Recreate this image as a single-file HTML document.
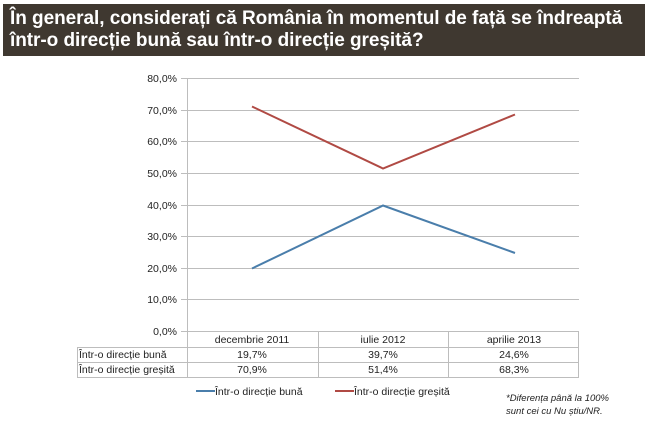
<!DOCTYPE html>
<html><head><meta charset="utf-8"><style>
body{margin:0;width:650px;height:423px;background:#fff;overflow:hidden;font-family:"Liberation Sans",sans-serif}
.hd{position:absolute;left:3px;top:4px;width:642px;height:52px;background:#3f3830;color:#fff;font-weight:bold;font-size:19px;line-height:22px;padding:4px 0 0 7px;box-sizing:border-box;letter-spacing:-0.05px}
</style></head><body>
<div class="hd">În general, considerați că România în momentul de față se îndreaptă<br>într-o direcție bună sau într-o direcție greșită?</div>
<svg width="650" height="423" style="position:absolute;left:0;top:0" font-family="Liberation Sans, sans-serif" font-size="10.5" fill="#222">
<g stroke="#bdbdbd" stroke-width="1">
<line x1="181" y1="78.5" x2="579" y2="78.5"/><line x1="181" y1="110.5" x2="579" y2="110.5"/>
<line x1="181" y1="141.5" x2="579" y2="141.5"/><line x1="181" y1="173.5" x2="579" y2="173.5"/>
<line x1="181" y1="205.5" x2="579" y2="205.5"/><line x1="181" y1="236.5" x2="579" y2="236.5"/>
<line x1="181" y1="268.5" x2="579" y2="268.5"/><line x1="181" y1="299.5" x2="579" y2="299.5"/>
<line x1="181" y1="331.5" x2="579" y2="331.5"/>
<line x1="187.5" y1="78" x2="187.5" y2="378"/>
<line x1="318.5" y1="331" x2="318.5" y2="378"/><line x1="448.5" y1="331" x2="448.5" y2="378"/>
<line x1="578.5" y1="331" x2="578.5" y2="378"/>
<line x1="77" y1="347.5" x2="579" y2="347.5"/><line x1="77" y1="362.5" x2="579" y2="362.5"/>
<line x1="77" y1="377.5" x2="579" y2="377.5"/><line x1="77.5" y1="347" x2="77.5" y2="378"/>
</g>
<g text-anchor="end">
<text x="177" y="82">80,0%</text><text x="177" y="114">70,0%</text><text x="177" y="145">60,0%</text>
<text x="177" y="177">50,0%</text><text x="177" y="209">40,0%</text><text x="177" y="240">30,0%</text>
<text x="177" y="272">20,0%</text><text x="177" y="303">10,0%</text><text x="177" y="335">0,0%</text>
</g>
<polyline points="252,268.5 383,205.5 515,253" fill="none" stroke="#4a7eab" stroke-width="2"/>
<polyline points="252,106.5 383,168.5 515,114.5" fill="none" stroke="#b04a44" stroke-width="2"/>
<g text-anchor="middle">
<text x="252" y="343">decembrie 2011</text><text x="383" y="343">iulie 2012</text><text x="514" y="343">aprilie 2013</text>
<text x="252" y="358">19,7%</text><text x="383" y="358">39,7%</text><text x="514" y="358">24,6%</text>
<text x="252" y="373">70,9%</text><text x="383" y="373">51,4%</text><text x="514" y="373">68,3%</text>
</g>
<text x="79" y="358">Într-o direcție bună</text>
<text x="79" y="373">Într-o direcție greșită</text>
<line x1="196" y1="391" x2="215" y2="391" stroke="#4a7eab" stroke-width="2"/>
<text x="215" y="395">Într-o direcție bună</text>
<line x1="335" y1="391" x2="354" y2="391" stroke="#b04a44" stroke-width="2"/>
<text x="354" y="395">Într-o direcție greșită</text>
<g font-style="italic" font-size="9.5">
<text x="506" y="401">*Diferența până la 100%</text>
<text x="506" y="414">sunt cei cu Nu știu/NR.</text>
</g>
</svg>
</body></html>
